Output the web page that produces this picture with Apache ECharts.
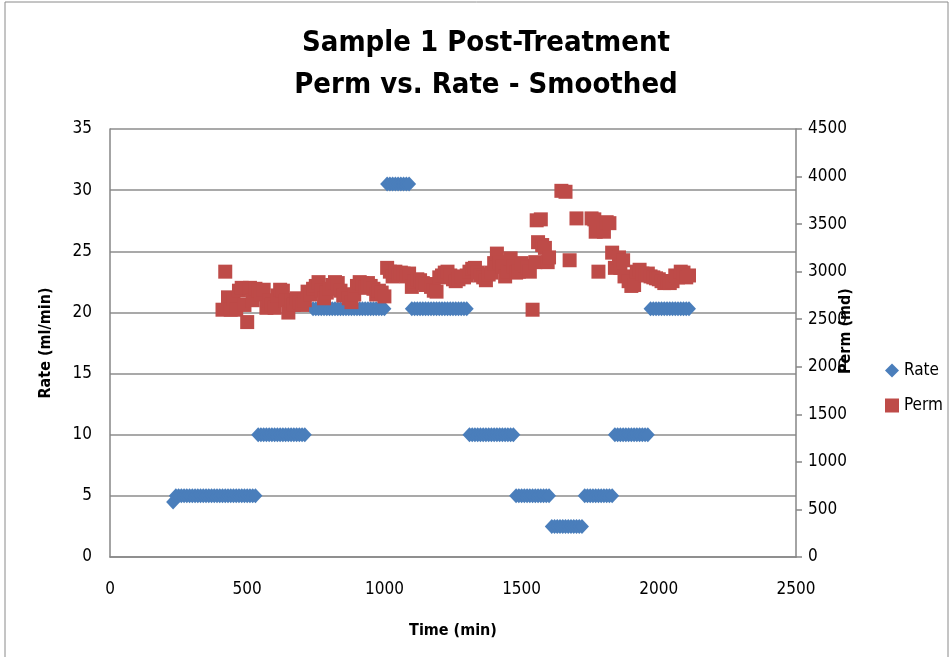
<!DOCTYPE html>
<html>
<head>
<meta charset="utf-8">
<script src="https://cdn.jsdelivr.net/npm/echarts@6.0.0/dist/echarts.min.js"></script>
<style>
  html, body { margin: 0; padding: 0; background: #fff; }
  #chart { width: 952px; height: 657px; }
</style>
</head>
<body>
<div id="chart"></div>
<script>
// Rate (ml/min) vs time (min)
var rateTime = [
  230,240,250,260,270,280,290,300,310,320,330,340,350,360,370,380,390,400,410,420,430,440,450,460,470,480,490,500,510,520,530,
  540,550,560,570,580,590,600,610,620,630,640,650,660,670,680,690,700,710,
  740,750,760,770,780,790,800,810,820,830,840,850,860,870,880,890,900,910,920,930,940,950,960,970,980,990,1000,
  1010,1020,1030,1040,1050,1060,1070,1080,1090,
  1100,1110,1120,1130,1140,1150,1160,1170,1180,1190,1200,1210,1220,1230,1240,1250,1260,1270,1280,1290,1300,
  1310,1320,1330,1340,1350,1360,1370,1380,1390,1400,1410,1420,1430,1440,1450,1460,1470,
  1480,1490,1500,1510,1520,1530,1540,1550,1560,1570,1580,1590,1600,
  1610,1620,1630,1640,1650,1660,1670,1680,1690,1700,1710,1720,
  1730,1740,1750,1760,1770,1780,1790,1800,1810,1820,1830,
  1840,1850,1860,1870,1880,1890,1900,1910,1920,1930,1940,1950,1960,
  1970,1980,1990,2000,2010,2020,2030,2040,2050,2060,2070,2080,2090,2100,2110
];
var rateVal = [
  4.5,5,5,5,5,5,5,5,5,5,5,5,5,5,5,5,5,5,5,5,5,5,5,5,5,5,5,5,5,5,5,
  10,10,10,10,10,10,10,10,10,10,10,10,10,10,10,10,10,10,
  20.3,20.3,20.3,20.3,20.3,20.3,20.3,20.3,20.3,20.3,20.3,20.3,20.3,20.3,20.3,20.3,20.3,20.3,20.3,20.3,20.3,20.3,20.3,20.3,20.3,20.3,20.3,
  30.5,30.5,30.5,30.5,30.5,30.5,30.5,30.5,30.5,
  20.3,20.3,20.3,20.3,20.3,20.3,20.3,20.3,20.3,20.3,20.3,20.3,20.3,20.3,20.3,20.3,20.3,20.3,20.3,20.3,20.3,
  10,10,10,10,10,10,10,10,10,10,10,10,10,10,10,10,10,
  5,5,5,5,5,5,5,5,5,5,5,5,5,
  2.5,2.5,2.5,2.5,2.5,2.5,2.5,2.5,2.5,2.5,2.5,2.5,
  5,5,5,5,5,5,5,5,5,5,5,
  10,10,10,10,10,10,10,10,10,10,10,10,10,
  20.3,20.3,20.3,20.3,20.3,20.3,20.3,20.3,20.3,20.3,20.3,20.3,20.3,20.3,20.3
];

// Perm (md) vs time (min)
var permTime = [
  410,420,430,440,450,460,470,480,490,500,
  510,520,530,540,550,560,570,580,590,600,
  610,620,630,640,650,660,670,680,690,700,
  710,720,730,740,750,760,770,780,790,800,
  810,820,830,840,850,860,870,880,890,900,
  910,920,930,940,950,960,970,980,990,1000,
  1010,1020,1030,1040,1050,1060,1070,1080,1090,1100,
  1110,1120,1130,1140,1150,1160,1170,1180,1190,1200,
  1210,1220,1230,1240,1250,1260,1270,1280,1290,1300,
  1310,1320,1330,1340,1350,1360,1370,1380,1390,1400,
  1410,1420,1430,1440,1450,1460,1470,1480,1490,1500,
  1510,1520,1530,1540,1550,1555,1560,1570,1575,1585,1595,1600,
  1645,1660,1675,1700,
  1755,1765,1770,1780,1800,1810,1820,1830,1840,
  1855,1860,1870,1875,1890,1900,1910,1920,1930,1940,1950,1960,
  1970,1980,1990,2000,2010,2020,2030,2040,2050,2060,2070,2080,2090,2100,2110
];
var permVal = [
  2600,3000,2730,2600,2720,2600,2800,2830,2650,2470,
  2830,2700,2820,2800,2760,2810,2620,2700,2650,2620,
  2750,2810,2800,2700,2570,2700,2650,2720,2680,2650,
  2700,2790,2760,2820,2850,2890,2800,2720,2780,2820,
  2860,2890,2880,2800,2750,2760,2720,2680,2760,2850,
  2890,2880,2830,2880,2850,2820,2760,2800,2780,2740,
  3040,3000,2950,3000,2960,2990,2980,2950,2980,2840,
  2900,2920,2910,2880,2860,2870,2840,2800,2790,2940,
  2960,2990,3000,2960,2920,2900,2920,2950,2940,2960,
  3000,3030,3040,2990,2960,2940,2910,2970,2990,3090,
  3190,3100,3050,2950,3000,3140,3050,2990,3000,3090,
  3060,3040,3000,2600,3100,3540,3310,3550,3280,3250,3100,3150,
  3850,3840,3120,3560,
  3560,3550,3420,3000,3420,3520,3510,3200,3040,
  3150,3040,3120,2950,2900,2850,2860,3000,3020,2980,2960,2980,
  2950,2940,2930,2920,2900,2880,2900,2880,2900,2960,2940,3000,2990,2940,2960
];

var xTicks = [0, 2500, 500];     // min, max, interval
var rateTicks = [0, 35, 5];
var permTicks = [0, 4500, 500];

function pairs(xs, ys) {
  var out = [];
  for (var i = 0; i < xs.length; i++) out.push([xs[i], ys[i]]);
  return out;
}
function plain(v) { return String(v); }

var FONT = "'Liberation Sans Narrow', 'DejaVu Sans Condensed', 'Liberation Sans', sans-serif";

var myChart = echarts.init(document.getElementById('chart'));
var option = {
  backgroundColor: '#ffffff',
  animation: false,
  textStyle: { fontFamily: FONT },
  graphic: [
    {
      type: 'rect',
      shape: { x: 5, y: 2, width: 943, height: 700 },
      style: { fill: 'none', stroke: '#8a8a8a', lineWidth: 1 }
    },
    {
      type: 'text', x: 486, y: 22,
      style: {
        text: 'Sample 1 Post-Treatment\nPerm vs. Rate - Smoothed',
        textAlign: 'center', fill: '#000',
        font: 'bold 29px ' + FONT, lineHeight: 42
      }
    }
  ],
  grid: { left: 110, right: 156, top: 129, bottom: 100 },
  legend: {
    orient: 'vertical',
    left: 880, top: 357,
    itemWidth: 14, itemHeight: 14, itemGap: 18,
    textStyle: { fontSize: 17, color: '#000', fontFamily: FONT },
    data: [
      { name: 'Rate', icon: 'diamond' },
      { name: 'Perm', icon: 'rect' }
    ]
  },
  xAxis: {
    type: 'value',
    min: xTicks[0], max: xTicks[1], interval: xTicks[2],
    name: 'Time (min)', nameLocation: 'middle', nameGap: 66,
    nameTextStyle: { fontWeight: 'bold', fontSize: 16, color: '#000' },
    axisLine: { lineStyle: { color: '#868686', width: 1.5 } },
    axisTick: { show: false },
    axisLabel: { fontSize: 17, color: '#000', margin: 24, formatter: plain },
    splitLine: { show: false }
  },
  yAxis: [
    {
      type: 'value',
      min: rateTicks[0], max: rateTicks[1], interval: rateTicks[2],
      name: 'Rate (ml/min)', nameLocation: 'middle', nameGap: 56, nameRotate: 90,
      nameTextStyle: { fontWeight: 'bold', fontSize: 16, color: '#000' },
      axisLine: { show: true, lineStyle: { color: '#868686', width: 1.5 } },
      axisTick: { show: false },
      axisLabel: { fontSize: 17, color: '#000', margin: 18, formatter: plain },
      splitLine: { show: true, lineStyle: { color: '#8c8c8c', width: 1.5 } }
    },
    {
      type: 'value', position: 'right',
      min: permTicks[0], max: permTicks[1], interval: permTicks[2],
      name: 'Perm (md)', nameLocation: 'middle', nameGap: 42, nameRotate: 90,
      nameMoveOverlap: false,
      nameTextStyle: { fontWeight: 'bold', fontSize: 16, color: '#000', padding: [0, 0, 0, 24] },
      axisLine: { show: true, lineStyle: { color: '#868686', width: 1.5 } },
      axisTick: { show: true, inside: false, length: 6, lineStyle: { color: '#868686', width: 1.5 } },
      axisLabel: { fontSize: 17, color: '#000', margin: 12, formatter: plain },
      splitLine: { show: false }
    }
  ],
  series: [
    {
      name: 'Rate', type: 'scatter', yAxisIndex: 0,
      symbol: 'diamond', symbolSize: [14, 15],
      itemStyle: { color: '#4a7ebb', opacity: 1 },
      data: pairs(rateTime, rateVal),
      z: 2
    },
    {
      name: 'Perm', type: 'scatter', yAxisIndex: 1,
      symbol: 'rect', symbolSize: 14,
      itemStyle: { color: '#be4b48', opacity: 1 },
      data: pairs(permTime, permVal),
      z: 3
    }
  ]
};
window.onresize = myChart.resize;
myChart.setOption(option);
</script>
</body>
</html>
